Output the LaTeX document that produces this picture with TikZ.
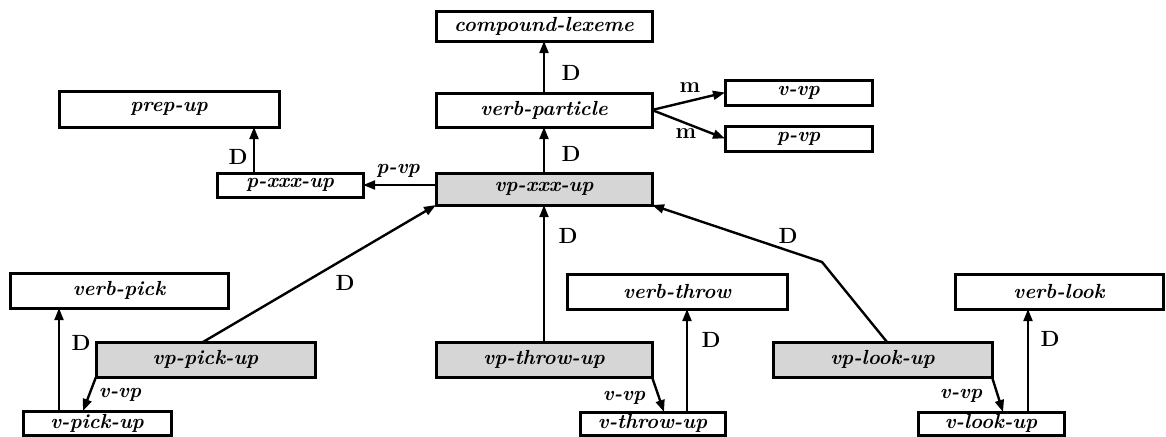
\documentclass[tikz,border=0pt]{standalone}
\usetikzlibrary{arrows.meta}
\begin{document}
\begin{tikzpicture}[x=0.5pt,y=-0.5pt,
  box/.style={draw,line width=1.5pt,inner sep=0pt,outer sep=0pt,
    font=\fontsize{10.2}{12}\selectfont\bfseries\itshape},
  shaded/.style={fill=black!16},
  arr/.style={line width=1.2pt,-{Triangle[length=6pt,width=4.4pt]}},
  dlab/.style={font=\fontsize{11}{13}\selectfont\bfseries,inner sep=0pt},
  ilab/.style={font=\fontsize{10.2}{12}\selectfont\bfseries\itshape,inner sep=0pt}]
\newcommand\bx[7]{\node[box,#6,minimum width={(#4-#2)*0.5pt},minimum height={(#5-#3)*0.5pt}] (#1) at ({(#2+#4)/2},{(#3+#5)/2}) {#7};}
\useasboundingbox (0,0) rectangle (1166,436);
% boxes
\bx{comp}{436}{11}{652}{41}{}{compound-lexeme}
\bx{vpart}{436}{93}{652}{127}{}{verb-particle}
\bx{vpxxx}{436}{173}{652}{205}{shaded}{vp-xxx-up}
\bx{vvp}{725}{80}{872}{105}{}{v-vp}
\bx{pvp}{725}{126}{872}{151}{}{p-vp}
\bx{prep}{59}{91}{279}{127}{}{prep-up}
\bx{pxxx}{217}{173}{363}{197}{}{p-xxx-up}
\bx{vbpick}{10}{273}{228}{308}{}{verb-pick}
\bx{vppick}{96}{342}{315}{377}{shaded}{vp-pick-up}
\bx{vpick}{23}{411}{171}{435}{}{v-pick-up}
\bx{vbthrow}{567}{274}{787}{309}{}{verb-throw}
\bx{vpthrow}{436}{342}{652}{377}{shaded}{vp-throw-up}
\bx{vthrow}{580}{412}{725}{435}{}{v-throw-up}
\bx{vblook}{955}{274}{1163}{309}{}{verb-look}
\bx{vplook}{773}{342}{992}{377}{shaded}{vp-look-up}
\bx{vlook}{918}{412}{1064}{435}{}{v-look-up}
% connectors
\draw[arr] (vpart) -- (comp);
\draw[arr] (vpxxx) -- (vpart);
\draw[arr] (vpart.east) -- (vvp.west);
\draw[arr] (vpart.east) -- (pvp.west);
\draw[arr] (vpxxx.west |- pxxx.east) -- (pxxx.east);
\draw[arr] (pxxx.north -| 254,0) -- (prep.south -| 254,0);
\draw[arr] (vppick.north -| 203,0) -- (vpxxx.south west);
\draw[arr] (vpthrow) -- (vpxxx);
\coordinate (bend) at (822,262);
\draw[arr] (vplook.north -| 887,0) -- (bend) -- (vpxxx.south east);
\draw[arr] (vpick.north -| 59,0) -- (vbpick.south -| 59,0);
\draw[arr] (vppick.south west) -- (vpick.north -| 83,0);
\draw[arr] (vthrow.north -| 687,0) -- (vbthrow.south -| 687,0);
\draw[arr] (vpthrow.south east) -- (vthrow.north -| 664,0);
\draw[arr] (vlook.north -| 1028,0) -- (vblook.south -| 1028,0);
\draw[arr] (vplook.south east) -- (vlook.north -| 1003,0);
% labels
\node[dlab] (l1) at (571,73) {D};
\node[dlab] (l2) at (571,154) {D};
\node[dlab] (l3) at (690,88) {m};
\node[dlab] (l4) at (686,134) {m};
\node[ilab] (l5) at (398,171) {p-vp};
\node[dlab] (l6) at (238,157) {D};
\node[dlab] (l7) at (345,283) {D};
\node[dlab] (l8) at (568,236) {D};
\node[dlab] (l9) at (788,236) {D};
\node[dlab] (l10) at (81,343) {D};
\node[ilab] (l11) at (120,395) {v-vp};
\node[dlab] (l12) at (711,340) {D};
\node[ilab] (l13) at (624,398) {v-vp};
\node[dlab] (l14) at (1050,339) {D};
\node[ilab] (l15) at (961,396) {v-vp};
\end{tikzpicture}
\end{document}
